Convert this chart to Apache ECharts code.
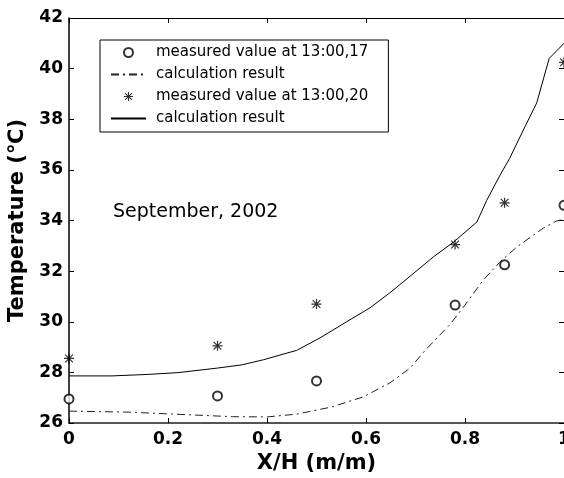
<!DOCTYPE html>
<html>
<head>
<meta charset="utf-8">
<script src="https://cdn.jsdelivr.net/npm/echarts@6/dist/echarts.min.js"></script>
<style>html,body{margin:0;padding:0;background:#fff;}#c{width:564px;height:478px;}</style>
</head>
<body>
<div id="c"></div>
<script>
// Measured positions and values
const measuredX = [0, 0.3, 0.5, 0.78, 0.88, 1.0];
const measured17 = [26.95, 27.07, 27.66, 30.66, 32.25, 34.6];
const measured20 = [28.55, 29.05, 30.7, 33.05, 34.7, 40.25];

// Calculation result, 13:00,17 (dash-dot)
const calc17X = [0, 0.12, 0.2, 0.33, 0.4, 0.46, 0.53, 0.594, 0.648, 0.689, 0.72, 0.77, 0.80, 0.837, 0.87, 0.905, 0.958, 0.985, 1.0];
const calc17Y = [26.47, 26.43, 26.36, 26.25, 26.24, 26.35, 26.63, 27.03, 27.58, 28.17, 28.88, 29.9, 30.66, 31.65, 32.35, 32.96, 33.7, 33.98, 34.05];

// Calculation result, 13:00,20 (solid)
const calc20X = [0, 0.087, 0.16, 0.22, 0.3, 0.35, 0.393, 0.46, 0.507, 0.56, 0.608, 0.648, 0.683, 0.736, 0.777, 0.824, 0.844, 0.871, 0.89, 0.921, 0.945, 0.97, 1.0];
const calc20Y = [27.86, 27.86, 27.92, 27.99, 28.17, 28.3, 28.5, 28.87, 29.36, 29.99, 30.55, 31.14, 31.7, 32.56, 33.15, 33.94, 34.8, 35.8, 36.45, 37.7, 38.65, 40.4, 41.0];

const seriesNames = ['measured value at 13:00,17', 'calculation result', 'measured value at 13:00,20', 'calculation result '];
const xTicks = [0, 0.2, 0.4, 0.6, 0.8, 1];
const yTicks = [26, 28, 30, 32, 34, 36, 38, 40, 42];

const zip = (xs, ys) => xs.map((x, i) => [x, ys[i]]);

const starPath = 'path://M4.4,0h1.2v10h-1.2z M0,4.4h10v1.2h-10z M0.7,1.55L1.55,0.7L9.3,8.45L8.45,9.3z M8.45,0.7L9.3,1.55L1.55,9.3L0.7,8.45z';

const tickFont = { fontFamily: 'DejaVu Sans', fontWeight: 'bold', fontSize: 17, color: '#000' };
const titleFont = { fontFamily: 'DejaVu Sans', fontWeight: 'bold', fontSize: 21, color: '#000' };
const hiddenSymbol = { color: 'rgba(0,0,0,0)', borderColor: 'rgba(0,0,0,0)', borderWidth: 0 };

const chart = echarts.init(document.getElementById('c'), null, { renderer: 'canvas' });
chart.setOption({
  animation: false,
  backgroundColor: '#fff',
  title: {
    text: 'September, 2002',
    left: 113, top: 203, padding: 0,
    textStyle: { fontFamily: 'DejaVu Sans', fontWeight: 'normal', fontSize: 19, color: '#000' }
  },
  grid: { left: 69, top: 18, right: 0, bottom: 55, containLabel: false, outerBoundsMode: 'none' },
  legend: {
    orient: 'vertical',
    left: 100, top: 40,
    padding: [5, 20, 6, 10],
    itemGap: 7,
    itemWidth: 35,
    itemHeight: 9,
    borderColor: '#000',
    borderWidth: 1,
    backgroundColor: '#fff',
    textStyle: { fontFamily: 'DejaVu Sans', fontSize: 15, color: '#000', padding: [0, 0, 0, 5] },
    data: [
      { name: seriesNames[0] },
      { name: seriesNames[1], itemStyle: hiddenSymbol },
      { name: seriesNames[2] },
      { name: seriesNames[3], itemStyle: hiddenSymbol }
    ]
  },
  xAxis: [
    {
      type: 'value', min: 0, max: 1, interval: 0.2, position: 'bottom',
      name: 'X/H (m/m)', nameLocation: 'middle', nameGap: 28, nameTextStyle: titleFont,
      axisLine: { onZero: false, lineStyle: { color: '#555', width: 2 } },
      axisTick: { inside: true, length: 5, lineStyle: { color: '#000' } },
      axisLabel: Object.assign({ margin: 8, formatter: v => String(+v.toFixed(1)) }, tickFont),
      splitLine: { show: false }
    },
    {
      type: 'value', min: 0, max: 1, interval: 0.2, position: 'top',
      axisLine: { onZero: false, lineStyle: { color: '#000', width: 1 } },
      axisTick: { inside: true, length: 5, lineStyle: { color: '#000' } },
      axisLabel: { show: false }, splitLine: { show: false }
    }
  ],
  yAxis: [
    {
      type: 'value', min: 26, max: 42, interval: 2, position: 'left',
      name: 'Temperature (℃)', nameLocation: 'middle', nameGap: 40, nameTextStyle: titleFont,
      axisLine: { onZero: false, lineStyle: { color: '#000', width: 1.5 } },
      axisTick: { inside: true, length: 5, lineStyle: { color: '#000' } },
      axisLabel: Object.assign({ margin: 6 }, tickFont),
      splitLine: { show: false }
    },
    {
      type: 'value', min: 26, max: 42, interval: 2, position: 'right',
      axisLine: { onZero: false, lineStyle: { color: '#000', width: 1 } },
      axisTick: { inside: true, length: 5, lineStyle: { color: '#000' } },
      axisLabel: { show: false }, splitLine: { show: false }
    }
  ],
  series: [
    {
      name: seriesNames[0], type: 'scatter', data: zip(measuredX, measured17),
      symbol: 'emptyCircle', symbolSize: 9,
      itemStyle: { color: '#000', borderColor: '#000', borderWidth: 1 }
    },
    {
      name: seriesNames[1], type: 'line', data: zip(calc17X, calc17Y),
      symbol: 'none', showSymbol: false,
      lineStyle: { color: '#222', width: 1, type: [8, 4, 2, 4] },
      itemStyle: { color: '#222' }
    },
    {
      name: seriesNames[2], type: 'scatter', data: zip(measuredX, measured20),
      symbol: starPath, symbolSize: 10, symbolKeepAspect: true,
      itemStyle: { color: '#000' }
    },
    {
      name: seriesNames[3], type: 'line', data: zip(calc20X, calc20Y),
      symbol: 'none', showSymbol: false,
      lineStyle: { color: '#000', width: 1, type: 'solid' },
      itemStyle: { color: '#000' }
    }
  ]
});
</script>
</body>
</html>
